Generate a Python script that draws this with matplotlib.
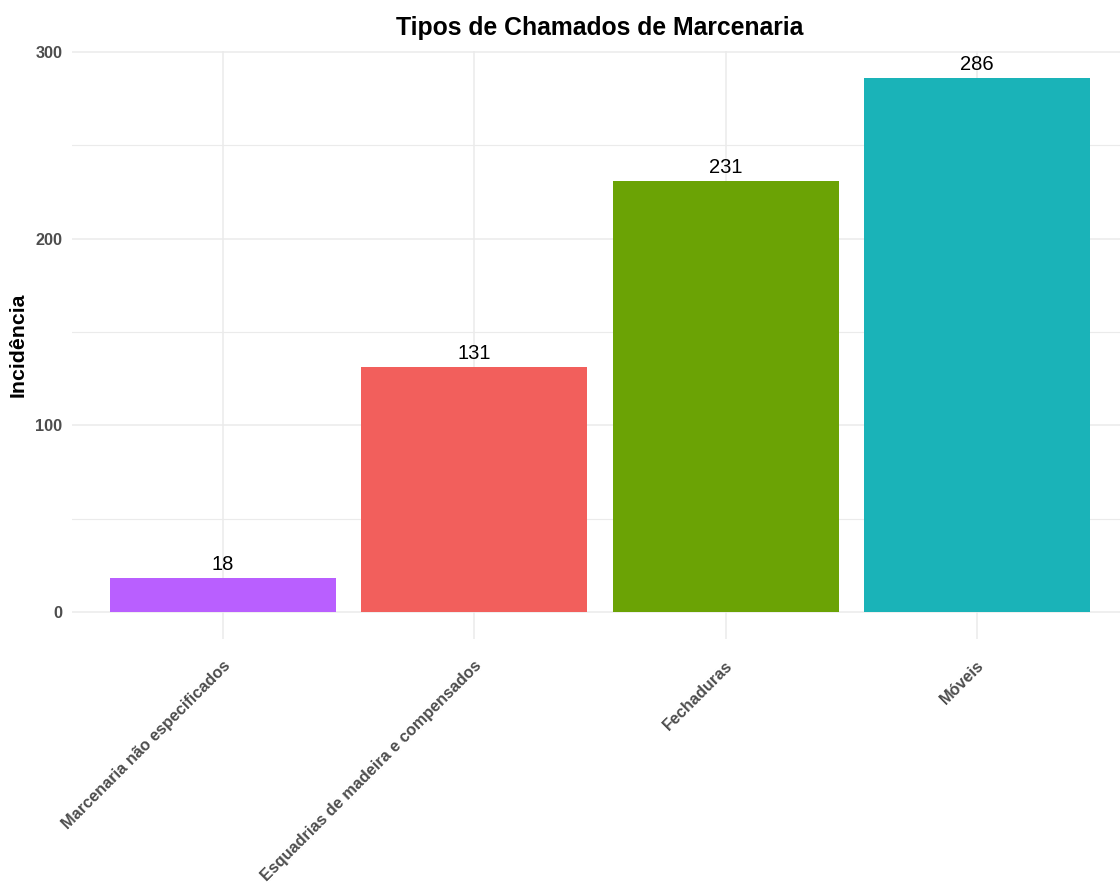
import matplotlib
matplotlib.use("Agg")
import matplotlib.pyplot as plt
import matplotlib.transforms as mtransforms
from matplotlib.ticker import MultipleLocator

plt.rcParams['font.family'] = ['Liberation Sans', 'DejaVu Sans']

categorias = ["Marcenaria não especificados",
              "Esquadrias de madeira e compensados",
              "Fechaduras",
              "Móveis"]
incidencia = [18, 131, 231, 286]
cores = ["#B95FFF", "#F25F5C", "#6BA305", "#1AB3B8"]

W, H = 1120, 884
fig = plt.figure(figsize=(W / 100, H / 100), dpi=100)

# panel spans x 72..1128 px, y 51.4..638.7 px
left, right = 72, 1128
top, bottom = 51.4, 638.7
ax = fig.add_axes([left / W, 1 - bottom / H, (right - left) / W, (bottom - top) / H])

x = list(range(1, len(categorias) + 1))
ax.bar(x, incidencia, width=0.9, color=cores, zorder=2)

for xi, v in zip(x, incidencia):
    ax.annotate(str(v), (xi, v), xytext=(0, 3), textcoords="offset points",
                ha="center", va="bottom", fontsize=14.5, color="black", zorder=3)

ymax = max(incidencia)
ax.set_xlim(0.4, len(categorias) + 0.6)
ax.set_ylim(-0.05 * ymax, ymax * 1.05)

ax.yaxis.set_major_locator(MultipleLocator(100))
ax.yaxis.set_minor_locator(MultipleLocator(50))
ax.set_xticks(x)

ax.tick_params(axis="both", which="both", length=0)
ax.tick_params(axis="y", pad=7)
ax.tick_params(axis="x", pad=0)

ax.set_xticklabels(categorias, rotation=45, ha="right", va="top",
                   fontsize=11.7, fontweight="bold", color="#4D4D4D")
offset = mtransforms.ScaledTranslation(10 / 100, -19 / 100, fig.dpi_scale_trans)
for lbl in ax.get_xticklabels():
    lbl.set_transform(lbl.get_transform() + offset)

for lbl in ax.get_yticklabels():
    lbl.set_fontsize(11.7)
    lbl.set_fontweight("bold")
    lbl.set_color("#4D4D4D")

ax.grid(True, which="major", axis="both", color="#EBEBEB", linewidth=1.1, zorder=0)
ax.grid(True, which="minor", axis="y", color="#EBEBEB", linewidth=0.8, zorder=0)
ax.set_axisbelow(True)
for s in ax.spines.values():
    s.set_visible(False)

ax.set_ylabel("Incidência", fontsize=15.3, fontweight="bold", color="black")
ax.yaxis.set_label_coords((28 - left) / (right - left), 0.5)

fig.text(600 / W, 1 - 28 / H, "Tipos de Chamados de Marcenaria",
         ha="center", va="center", fontsize=17.8, fontweight="bold", color="black")

fig.savefig("out.png", dpi=100, facecolor="white")
